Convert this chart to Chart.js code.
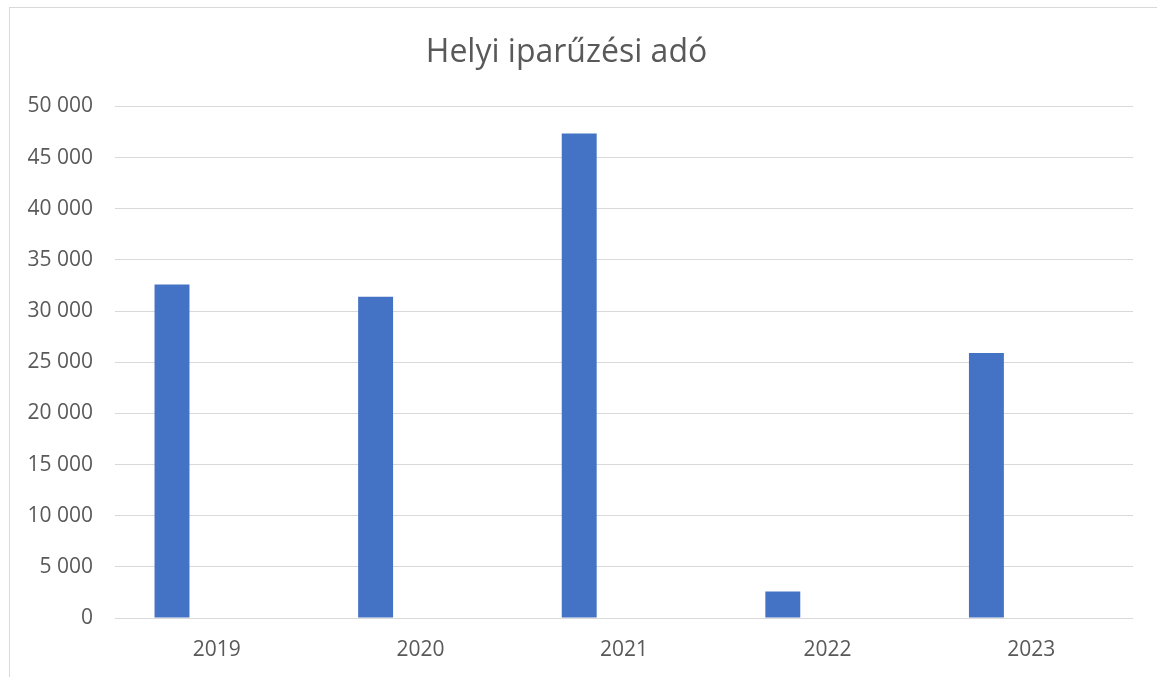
<!DOCTYPE html>
<html>
<head>
<meta charset="utf-8">
<script src="https://cdn.jsdelivr.net/npm/chart.js@4"></script>
<style>
  body { margin: 0; background: #fff; overflow: hidden; }
  .frame { position: absolute; left: 9px; top: 7px; width: 1200px; height: 720px; border: 1px solid #d9d9d9; box-sizing: border-box; }
  #myChart { position: absolute; left: 0; top: 0; }
</style>
</head>
<body>
<div class="frame"></div>
<canvas id="myChart" width="1157" height="677"></canvas>
<script>
const years = ['2019', '2020', '2021', '2022', '2023'];
const tax = [32600, 31400, 47350, 2600, 25900];
const empty = [0, 0, 0, 0, 0];

const ctx = document.getElementById('myChart').getContext('2d');
const myChart = new Chart(ctx, {
  type: 'bar',
  data: {
    labels: years,
    datasets: [{
      label: 'Helyi iparűzési adó',
      data: tax,
      backgroundColor: '#4472c4',
      categoryPercentage: 0.88,
      barPercentage: 0.39
    }, {
      label: '',
      data: empty,
      backgroundColor: '#ed7d31',
      categoryPercentage: 0.88,
      barPercentage: 0.39
    }]
  },
  options: {
    responsive: false,
    animation: false,
    layout: { padding: { top: 7, right: 24, left: 0, bottom: 0 } },
    plugins: {
      legend: { display: false },
      tooltip: { enabled: false },
      title: {
        display: true,
        text: 'Helyi iparűzési adó',
        color: '#595959',
        font: { family: 'Open Sans', size: 32, weight: 'normal' },
        padding: { top: 27, bottom: 34 }
      }
    },
    scales: {
      x: {
        grid: { display: false },
        border: { display: false },
        ticks: { color: '#595959', font: { family: 'Open Sans', size: 21 }, padding: 11 },
        afterFit: s => { s.height = 59; }
      },
      y: {
        min: 0,
        max: 50000,
        grid: { color: '#d9d9d9', lineWidth: 1, drawTicks: false },
        border: { display: false },
        ticks: {
          stepSize: 5000,
          color: '#595959',
          font: { family: 'Open Sans', size: 21 },
          padding: 22,
          callback: v => String(v).replace(/\B(?=(\d{3})+(?!\d))/g, ' ')
        },
        afterFit: s => { s.width = 115; }
      }
    }
  }
});
</script>
</body>
</html>
